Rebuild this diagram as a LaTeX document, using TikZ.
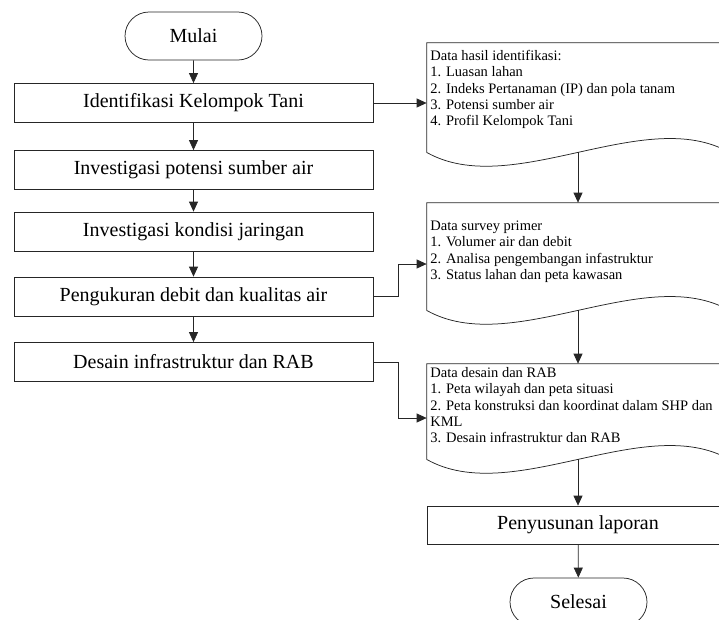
\documentclass[tikz,border=0pt]{standalone}
\usepackage{fontspec}
\setmainfont{Liberation Serif}
\usetikzlibrary{arrows.meta,shapes.misc}

% garis tepi bentuk dokumen, bawahnya bergelombang
\newcommand{\gambardok}[1]{%
  \draw (#1.south west) -- (#1.north west) -- (#1.north east) -- (#1.south east)
    .. controls +(-85,-48) and +(85,48) .. (#1.south west) coordinate[pos=0.5] (#1-w);}

\begin{document}
\begin{tikzpicture}[x=1pt,y=-1pt,line width=0.75pt,draw=black!85,
   >={Triangle[length=10pt,width=9pt]},
   proses/.style={draw,rectangle,minimum width=359pt,minimum height=39pt,inner sep=0pt,
     font=\fontsize{20}{22}\selectfont},
   terminal/.style={draw,rounded rectangle,minimum width=137pt,minimum height=48pt,
     inner sep=0pt,font=\fontsize{20}{22}\selectfont},
   dokumen/.style={rectangle,minimum width=302pt,inner sep=0pt},
   isi/.style={align=left,anchor=north west,inner sep=0pt,
     font=\fontsize{14.5}{16.3}\selectfont}]
   \useasboundingbox (0,0) rectangle (719,619);

   % kolom kiri
   \node[terminal] (mulai) at (193.5,36) {Mulai};
   \node[proses] (b1) at (193.5,103) {Identifikasi Kelompok Tani};
   \node[proses] (b2) at (193.5,170) {Investigasi potensi sumber air};
   \node[proses] (b3) at (193.5,231.5) {Investigasi kondisi jaringan};
   \node[proses] (b4) at (193.5,296.5) {Pengukuran debit dan kualitas air};
   \node[proses] (b5) at (193.5,362) {Desain infrastruktur dan RAB};

   % kolom kanan
   \node[dokumen,minimum height=109pt] (d1) at (578,97.5) {};
   \node[dokumen,minimum height=107pt] (d2) at (578,256.5) {};
   \node[dokumen,minimum height=95pt] (d3) at (578,411.5) {};
   \gambardok{d1}
   \gambardok{d2}
   \gambardok{d3}
   \node[isi] (d1t) at (430,50) {Data hasil identifikasi:\\1. Luasan lahan\\
     2. Indeks Pertanaman (IP) dan pola tanam\\3. Potensi sumber air\\4. Profil Kelompok Tani};
   \node[isi] (d2t) at (430,220.5) {Data survey primer\\1. Volumer air dan debit\\
     2. Analisa pengembangan infastruktur\\3. Status lahan dan peta kawasan};
   \node[isi] (d3t) at (430,367) {Data desain dan RAB\\1. Peta wilayah dan peta situasi\\
     2. Peta konstruksi dan koordinat dalam SHP dan\\KML\\3. Desain infrastruktur dan RAB};
   \node[proses,minimum width=302pt,minimum height=38pt] (b6) at (578,525) {Penyusunan laporan};
   \node[terminal] (selesai) at (578.5,602) {Selesai};

   % panah
   \draw[->] (mulai) -- (b1);
   \draw[->] (b1) -- (b2);
   \draw[->] (b2) -- (b3);
   \draw[->] (b3) -- (b4);
   \draw[->] (b4) -- (b5);
   \draw[->] (b1.east) -- (b1.east -| d1.west);
   \draw[->] (b4.east) -- ++(25,0) |- ([yshift=-7.5pt]d2.west);
   \draw[->] (b5.east) -- ++(25,0) |- ([yshift=-6.5pt]d3.west);
   \draw[->] (d1-w) -- (d2.north);
   \draw[->] (d2-w) -- (d3.north);
   \draw[->] (d3-w) -- (b6.north);
   \draw[->] (b6) -- (selesai);
\end{tikzpicture}
\end{document}
